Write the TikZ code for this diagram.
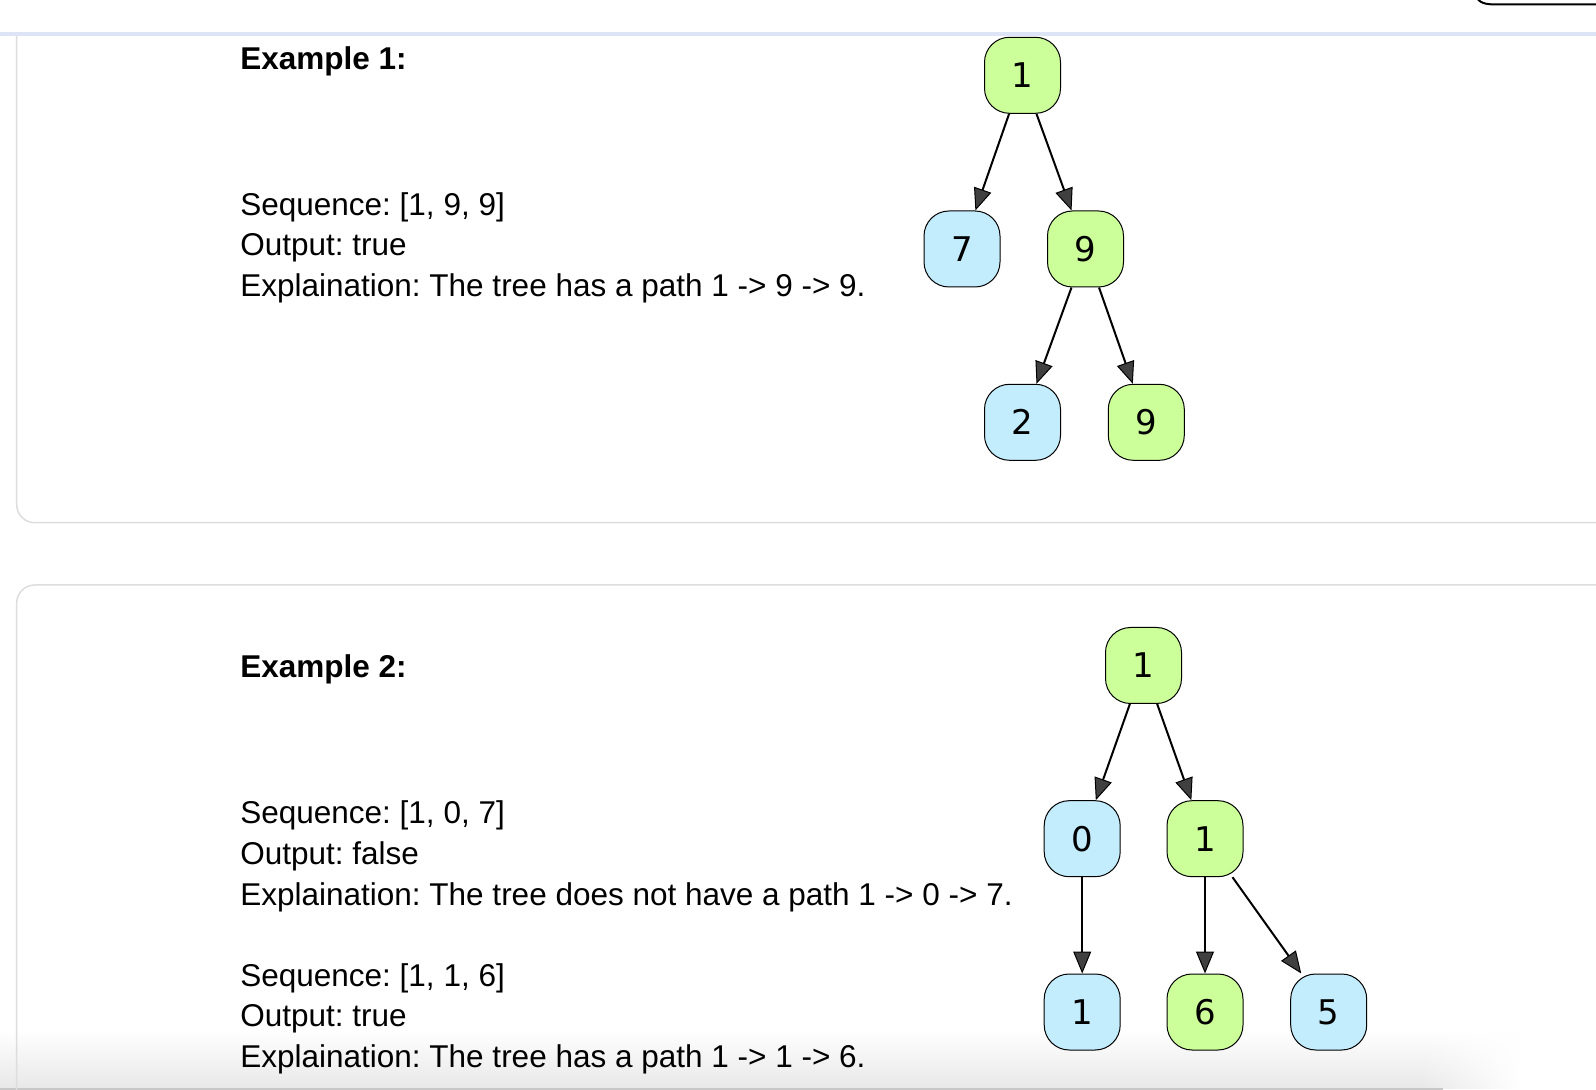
\documentclass[tikz,border=0pt]{standalone}
\usepackage{fontspec}
\setmainfont{Liberation Sans}
\newfontfamily\nodefont{DejaVu Sans}
\usetikzlibrary{arrows.meta,fadings}
\frenchspacing
\definecolor{gfill}{RGB}{204,255,153}
\definecolor{bfill}{RGB}{195,237,253}
\definecolor{topline}{RGB}{220,228,246}
\definecolor{cardline}{RGB}{221,221,221}
\tikzset{
  tnode/.style={draw=black, line width=0.5pt, rounded corners=12.5pt,
    minimum width=38pt, minimum height=38pt, inner sep=0pt,
    font=\nodefont\fontsize{17}{17}\selectfont},
  gnode/.style={tnode, fill=gfill},
  bnode/.style={tnode, fill=bfill},
  edge/.style={draw=black, line width=1pt,
    -{Triangle[length=11pt,width=9pt,line width=0.5pt,fill=black!75]}},
  txt/.style={anchor=base west, inner sep=0pt,
    font=\fontsize{15.75}{19}\selectfont},
  head/.style={txt, font=\bfseries\fontsize{15.75}{19}\selectfont},
  card/.style={draw=cardline, line width=0.75pt, rounded corners=9pt}
}
\begin{document}
\begin{tikzpicture}[x=0.5pt,y=-0.5pt]
\useasboundingbox (0,0) rectangle (1596,1090);
\clip (0,0) rectangle (1596,1090);
\fill[white] (0,0) rectangle (1596,1090);
% bottom shadow
\shade[top color=white, bottom color=black!9] (0,1030) rectangle (1420,1088);
\shade[top color=white, bottom color=black!9, path fading=east] (1420,1030) rectangle (1520,1088);
\draw[black!22, line width=1pt] (0,1088.5) -- (1443,1088.5);
% top decorations
\fill[topline] (0,32) rectangle (1596,36);
\draw[black, line width=1pt] (1477,-2) .. controls (1481,4.5) and (1489,4.5) .. (1500,4.5) -- (1600,4.5);
% cards
\draw[card] (16.7,36) -- (16.7,522.7) -- (1700,522.7);
\draw[card] (1700,585) -- (16.7,585) -- (16.7,1120);

% Example 1 text
\node[head] (h1) at (240,70) {Example 1:};
\node[txt] (s1) at (240,215.5) {Sequence: [1, 9, 9]};
\node[txt] (o1) at (240,256) {Output: true};
\node[txt] (e1) at (240,296.7) {Explaination: The tree has a path 1 -> 9 -> 9.};

% Example 1 tree
\node[gnode] (a1) at (1022.5,75.3) {1};
\node[bnode] (a7) at (962,249) {7};
\node[gnode] (a9) at (1085.5,249) {9};
\node[bnode] (a2) at (1022.5,422.3) {2};
\node[gnode] (a9b) at (1146.3,422.3) {9};
\draw[edge] (a1) -- (a7);
\draw[edge] (a1) -- (a9);
\draw[edge] (a9) -- (a2);
\draw[edge] (a9) -- (a9b);

% Example 2 text
\node[head] (h2) at (240,677.3) {Example 2:};
\node[txt] (s2) at (240,823.3) {Sequence: [1, 0, 7]};
\node[txt] (o2) at (240,864) {Output: false};
\node[txt] (e2) at (240,905) {Explaination: The tree does not have a path 1 -> 0 -> 7.};
\node[txt] (s3) at (240,986.7) {Sequence: [1, 1, 6]};
\node[txt] (o3) at (240,1026.7) {Output: true};
\node[txt] (e3) at (240,1067.7) {Explaination: The tree has a path 1 -> 1 -> 6.};

% Example 2 tree
\node[gnode] (b1) at (1143.5,665.5) {1};
\node[bnode] (b0) at (1082.2,838.7) {0};
\node[gnode] (b1r) at (1205,838.7) {1};
\node[bnode] (b1l) at (1082.2,1012) {1};
\node[gnode] (b6) at (1205,1012) {6};
\node[bnode] (b5) at (1328.7,1012) {5};
\draw[edge] (b1) -- (b0);
\draw[edge] (b1) -- (b1r);
\draw[edge] (b0) -- (b1l);
\draw[edge] (b1r) -- (b6);
\draw[edge] (b1r) -- (b5);
\end{tikzpicture}
\end{document}
